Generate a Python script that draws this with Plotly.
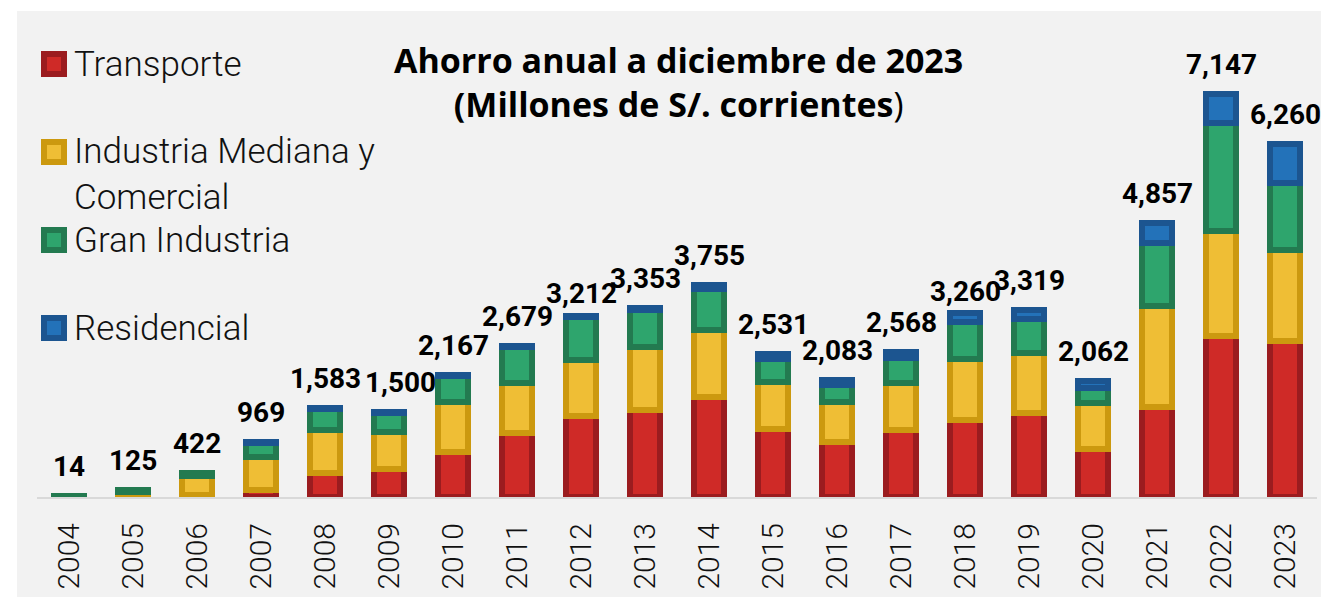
import plotly.graph_objects as go

# ---------------- data ----------------
years = ["2004", "2005", "2006", "2007", "2008", "2009", "2010", "2011", "2012", "2013",
         "2014", "2015", "2016", "2017", "2018", "2019", "2020", "2021", "2022", "2023"]
transporte = [0, 0, 27, 128, 422, 493, 802, 1132, 1440, 1535,
              1771, 1203, 967, 1180, 1370, 1499, 855, 1605, 2860, 2776]
industria_mediana = [3, 80, 337, 590, 770, 669, 892, 899, 994, 1122,
                     1183, 846, 727, 851, 1087, 1064, 809, 1787, 1862, 1597]
gran_industria = [11, 45, 58, 236, 376, 325, 456, 626, 756, 664,
                  739, 396, 296, 431, 656, 598, 266, 1110, 1909, 1194]
residencial = [0, 0, 0, 15, 15, 13, 17, 22, 22, 32,
               62, 86, 93, 106, 147, 158, 132, 355, 516, 693]
totales = [14, 125, 422, 969, 1583, 1500, 2167, 2679, 3212, 3353,
           3755, 2531, 2083, 2568, 3260, 3319, 2062, 4857, 7147, 6260]
series_names = ["Transporte", "Industria Mediana y<br>Comercial", "Gran Industria", "Residencial"]
title_line1 = "Ahorro anual a diciembre de 2023"
title_line2 = "(Millones de S/. corrientes"

# ---------------- styles ----------------
W, H = 1321, 597
ML, MR, MT, MB = 37, 4, 11, 100
PW, PH = W - ML - MR, H - MT - MB
PER_PX = 17.74
YMAX = PH * PER_PX

fills = ["#cf2a27", "#efbe35", "#2ea56d", "#2372b9"]
darks = ["#9b1c1f", "#cc990f", "#237a50", "#1c5590"]
BG = "#f2f2f2"


def px_x(px):
    return (px - ML) / PW


def px_y(py):
    return (H - MB - py) / PH


fig = go.Figure()
for name, vals, fc, lc in zip(series_names,
                              [transporte, industria_mediana, gran_industria, residencial],
                              fills, darks):
    # zero-valued segments are left empty so no outline is drawn for them
    fig.add_bar(x=years, y=[v if v else None for v in vals],
                name=name.replace("<br>", " "),
                marker=dict(color=fc, line=dict(color=lc, width=6)))

# total labels
label_xshift = {"2009": 11}
label_yshift = {"2012": -7, "2018": -8}
for i, (yr, tot) in enumerate(zip(years, totales)):
    fig.add_annotation(x=i, y=tot, text=f"{tot:,}", showarrow=False,
                       xanchor="center", yanchor="bottom",
                       xshift=label_xshift.get(yr, 0),
                       yshift=11 + label_yshift.get(yr, 0),
                       font=dict(family="Roboto", size=28, color="#000000", weight="bold"))

# title
fig.add_annotation(xref="paper", yref="paper", x=px_x(678), y=px_y(82),
                   text=f"<b>{title_line1}</b><br><b>{title_line2}</b>)",
                   showarrow=False, xanchor="center", yanchor="middle", align="center",
                   font=dict(family="Open Sans", size=34, color="#000000"))

# custom legend
legend_y = [64, 174.5, 240, 328]
marker_y = [64, 152, 240, 328]
shapes = []
for name, fc, lc, ty, my in zip(series_names, fills, darks, legend_y, marker_y):
    shapes.append(dict(type="rect", xref="paper", yref="paper",
                       x0=px_x(44), x1=px_x(64), y0=px_y(my + 10), y1=px_y(my - 10),
                       fillcolor=fc, line=dict(color=lc, width=6), layer="above"))
    fig.add_annotation(xref="paper", yref="paper", x=px_x(72), y=px_y(ty),
                       text=name, showarrow=False, xanchor="left", yanchor="middle",
                       align="left",
                       font=dict(family="Roboto", size=35, color="#111111", weight=300))

# white border strips (top and left)
shapes.append(dict(type="rect", xref="paper", yref="paper", layer="below",
                   x0=px_x(0), x1=px_x(17), y0=px_y(H), y1=px_y(0),
                   fillcolor="#ffffff", line=dict(width=0)))
shapes.append(dict(type="rect", xref="paper", yref="paper", layer="below",
                   x0=px_x(0), x1=px_x(W), y0=px_y(11), y1=px_y(0),
                   fillcolor="#ffffff", line=dict(width=0)))

fig.update_layout(
    width=W, height=H,
    margin=dict(l=ML, r=MR, t=MT, b=MB, pad=0, autoexpand=False),
    barmode="stack", bargap=0.516,
    paper_bgcolor=BG, plot_bgcolor="rgba(0,0,0,0)",
    showlegend=False, shapes=shapes,
    xaxis=dict(type="category", range=[-0.5, len(years) - 0.5], automargin=False,
               showline=True, linecolor="#d9d9d9", linewidth=2,
               ticks="", tickangle=-90, ticklabelstandoff=12,
               tickfont=dict(family="Roboto", size=30, color="#111111", weight=300),
               showgrid=False, zeroline=False),
    yaxis=dict(range=[0, YMAX], visible=False, showgrid=False, zeroline=False,
               automargin=False),
)

fig.write_html("out.html", config={"displayModeBar": False},
               post_script="document.body.style.margin='0';document.body.style.overflow='hidden';")
